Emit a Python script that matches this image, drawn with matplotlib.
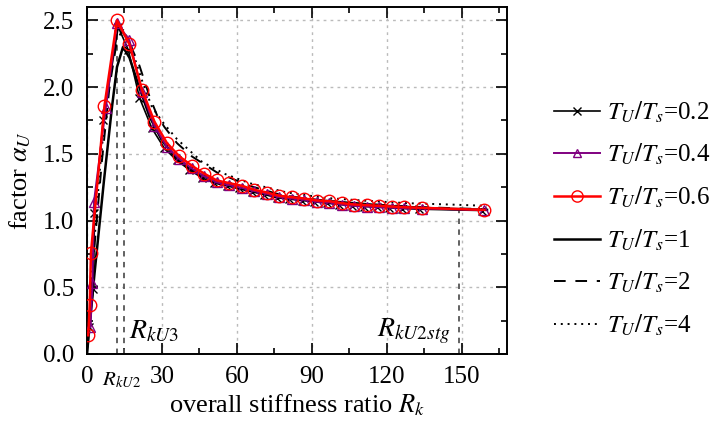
import matplotlib
matplotlib.use("Agg")
import matplotlib.pyplot as plt
from matplotlib.ticker import MultipleLocator, FixedLocator

plt.rcParams['font.family'] = ['Liberation Serif', 'DejaVu Serif']
plt.rcParams['mathtext.fontset'] = 'stix'

# -------------------------------
# DATA
# -------------------------------
# T_U/T_s = 0.2  (black, x markers)
x_02 = [0.8, 2.6, 3.0, 6.5, 12.5, 16.5, 21, 26, 31, 36, 41, 46, 51, 56, 61, 66, 71, 76,
        81, 86, 91, 96, 101, 106, 111, 116, 121, 126, 133, 158]
y_02 = [0.20, 0.49, 1.06, 1.75, 2.45, 2.28, 1.92, 1.69, 1.54, 1.45, 1.38, 1.32, 1.28, 1.26,
        1.24, 1.215, 1.195, 1.17, 1.16, 1.15, 1.14, 1.13, 1.12, 1.11, 1.105, 1.10, 1.095,
        1.09, 1.085, 1.075]

# T_U/T_s = 0.4  (purple, triangles)
x_04 = [1.4, 2.2, 2.8, 7.5, 12, 17, 22, 27, 32, 37, 42, 47, 52, 57, 62, 67, 72, 77, 82,
        87, 92, 97, 102, 107, 112, 117, 122, 127, 134, 159]
y_04 = [0.20, 0.53, 1.14, 1.84, 2.48, 2.35, 1.96, 1.71, 1.55, 1.46, 1.39, 1.33, 1.285,
        1.265, 1.245, 1.22, 1.20, 1.175, 1.165, 1.155, 1.14, 1.135, 1.12, 1.11, 1.105,
        1.10, 1.097, 1.093, 1.09, 1.078]

# T_U/T_s = 0.6  (red, circles)
x_06 = [0.5, 1.1, 1.6, 7, 12, 17, 22, 27, 32, 37, 42, 47, 52, 57, 62, 67, 72, 77, 82,
        87, 92, 97, 102, 107, 112, 117, 122, 127, 134, 159]
y_06 = [0.14, 0.37, 0.76, 1.86, 2.50, 2.32, 1.98, 1.74, 1.58, 1.48, 1.41, 1.35, 1.30,
        1.28, 1.26, 1.23, 1.21, 1.185, 1.175, 1.165, 1.15, 1.145, 1.13, 1.12, 1.115,
        1.11, 1.105, 1.10, 1.095, 1.08]

# T_U/T_s = 1  (black solid)
x_1 = [0, 3, 6.8, 10, 12, 14.4, 17, 20, 25, 30, 35, 40, 50, 60, 70, 80, 90, 100, 110,
       120, 130, 140, 150, 160]
y_1 = [0, 0.6, 1.3, 1.85, 2.15, 2.30, 2.22, 2.05, 1.78, 1.60, 1.48, 1.40, 1.30, 1.245,
       1.205, 1.175, 1.155, 1.14, 1.125, 1.11, 1.10, 1.09, 1.085, 1.08]

# T_U/T_s = 2  (black dashed)
x_2 = [0, 2.5, 6, 9, 12, 14, 17, 21, 25, 28, 31, 36, 42, 52, 65, 78, 90, 105, 120, 135,
       150, 160]
y_2 = [0, 0.7, 1.45, 2.0, 2.35, 2.42, 2.33, 2.16, 1.93, 1.79, 1.70, 1.58, 1.48, 1.36,
       1.26, 1.19, 1.16, 1.13, 1.115, 1.10, 1.09, 1.085]

# T_U/T_s = 4  (black dotted)
x_4 = [0, 2, 5, 8, 10.5, 12.5, 15, 18, 22, 26, 31, 36, 46, 55, 65, 80, 95, 110, 128,
       145, 160]
y_4 = [0, 0.6, 1.35, 1.95, 2.3, 2.45, 2.42, 2.28, 2.05, 1.85, 1.72, 1.61, 1.44, 1.35,
       1.28, 1.21, 1.17, 1.15, 1.13, 1.12, 1.11]

# characteristic stiffness ratios (x position, height of the marker line)
ref_x = [12, 15, 149]
ref_top = [2.46, 2.30, 1.09]

# -------------------------------
# PLOT
# -------------------------------
fig = plt.figure(figsize=(7.17, 4.32), dpi=100)
ax = fig.add_axes([0.1213, 0.1806, 0.5858, 0.8032])

for xr, yt in zip(ref_x, ref_top):
    ax.plot([xr, xr], [0, yt], color='#555555', lw=1.3, ls=(0, (3, 3)), zorder=1)

l1, = ax.plot(x_1, y_1, color='black', lw=1.8, label='$T_U/T_s$=1', zorder=3)
l2, = ax.plot(x_2, y_2, color='black', lw=1.4, ls=(0, (6, 5)), label='$T_U/T_s$=2', zorder=3)
l4, = ax.plot(x_4, y_4, color='black', lw=1.4, ls=(0, (1, 2.5)), label='$T_U/T_s$=4', zorder=3)
l02, = ax.plot(x_02, y_02, color='black', lw=1.2, marker='x', ms=6, mew=1.0,
               label='$T_U/T_s$=0.2', zorder=4)
l04, = ax.plot(x_04, y_04, color='#800080', lw=1.4, marker='^', ms=7, mfc='none', mew=1.0,
               label='$T_U/T_s$=0.4', zorder=5)
l06, = ax.plot(x_06, y_06, color='#ff0000', lw=1.8, marker='o', ms=9, mfc='none', mew=1.0,
               label='$T_U/T_s$=0.6', zorder=6)

ax.set_xlim(0, 168)
ax.set_ylim(0, 2.6)
ax.xaxis.set_major_locator(FixedLocator([0, 30, 60, 90, 120, 150]))
ax.xaxis.set_minor_locator(MultipleLocator(15))
ax.yaxis.set_major_locator(MultipleLocator(0.5))
ax.yaxis.set_minor_locator(MultipleLocator(0.25))
ax.yaxis.set_major_formatter(plt.FormatStrFormatter('%.1f'))
ax.tick_params(which='both', direction='in', top=True, right=True, labelsize=18, width=1.2)
ax.tick_params(which='major', length=8, pad=9)
ax.tick_params(which='minor', length=4)
for s in ax.spines.values():
    s.set_linewidth(1.4)

ax.grid(True, which='major', color='#bbbbbb', ls=(0, (2, 3)), lw=1.0)
ax.set_axisbelow(True)

ax.set_xlabel('overall stiffness ratio $R_k$', fontsize=19, labelpad=3)
ax.set_ylabel(r'factor $\alpha_U$', fontsize=19, labelpad=7)

ax.text(17, 0.17, '$R_{kU3}$', fontsize=20, va='center')
ax.text(116, 0.17, '$R_{kU2stg}$', fontsize=20, va='center')
ax.text(14, -0.2, '$R_{kU2}$', fontsize=15, ha='center', va='center', clip_on=False)

ax.legend(handles=[l02, l04, l06, l1, l2, l4], loc='center left',
          bbox_to_anchor=(1.112, 0.39), frameon=False, fontsize=18,
          handlelength=1.85, handletextpad=0.25, labelspacing=0.69, markerscale=0.9,
          borderpad=0, borderaxespad=0)

fig.savefig('out.png', dpi=100)
